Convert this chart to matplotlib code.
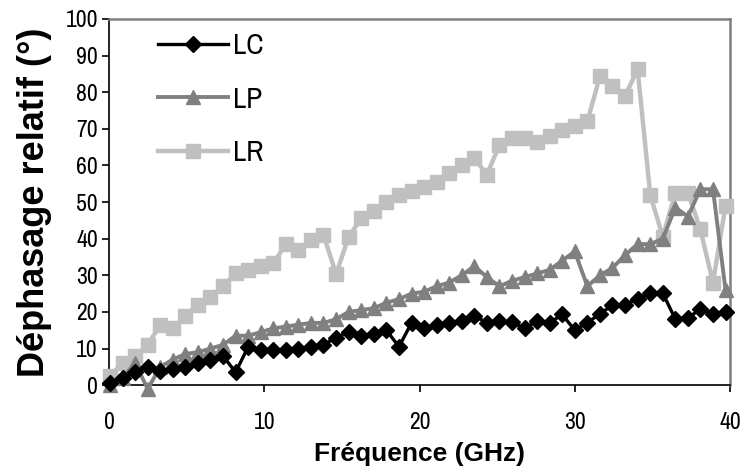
import numpy as np
import matplotlib
matplotlib.use("Agg")
import matplotlib.pyplot as plt

plt.rcParams['font.family'] = ['Archivo Narrow', 'Liberation Sans', 'DejaVu Sans']
label_font = ['Liberation Sans', 'DejaVu Sans']

# frequency grid (GHz), 50 points
freq = [0.06, 0.87, 1.68, 2.49, 3.30, 4.11, 4.91, 5.72, 6.53, 7.34,
        8.15, 8.96, 9.77, 10.58, 11.39, 12.20, 13.00, 13.81, 14.62, 15.43,
        16.24, 17.05, 17.86, 18.67, 19.48, 20.29, 21.09, 21.90, 22.71, 23.52,
        24.33, 25.14, 25.95, 26.76, 27.57, 28.38, 29.18, 29.99, 30.80, 31.61,
        32.42, 33.23, 34.04, 34.85, 35.66, 36.47, 37.28, 38.08, 38.89, 39.70]

lc = [0.5, 2, 3.5, 5, 4, 4.5, 5, 6, 7, 8,
      3.5, 10.5, 9.5, 9.5, 9.5, 10, 10.5, 11, 13, 14.5,
      13.5, 14, 15, 10.5, 17, 15.5, 16.5, 17, 17.5, 19,
      17, 17.5, 17.2, 15.5, 17.5, 17, 19.3, 15, 17, 19.5,
      21.8, 22, 23.5, 25.2, 25.1, 18, 18.3, 20.8, 19.4, 20.1]

lp = [0, 2, 6, -1, 5, 7, 8.5, 9, 10, 11,
      13.5, 13.5, 14.5, 15.5, 16, 16.5, 17, 17, 18, 20,
      20.5, 21, 22.5, 23.5, 25, 25.5, 27, 28, 30, 32.5,
      29.5, 27, 28.5, 29.5, 30.5, 31.5, 34, 36.5, 27, 30,
      32, 35.5, 38.5, 38.5, 40, 48.5, 46, 53.5, 53.5, 26]

lr = [2.5, 6, 8, 11, 16.5, 15.5, 19, 22, 24, 27,
      30.5, 31.5, 32.5, 33.3, 38.5, 37, 39.5, 41, 30.3, 40.5,
      45.5, 47.5, 50, 52, 53, 54, 55.6, 58, 60, 62,
      57.5, 65.5, 67.5, 67.5, 66.3, 68, 69.7, 70.7, 72, 84.3,
      81.6, 79, 86.2, 52, 40.5, 52.5, 52.5, 42.5, 28, 49]

fig = plt.figure(figsize=(7.52, 4.72), dpi=100)
ax = fig.add_axes([0.145, 0.184, 0.826, 0.776])

ax.plot(freq, lr, color='#c0c0c0', lw=3.2, marker='s', ms=9.5, label='LR', clip_on=False, zorder=3)
ax.plot(freq, lp, color='#808080', lw=2.8, marker='^', ms=10.5, label='LP', clip_on=False, zorder=4)
ax.plot(freq, lc, color='black', lw=2.4, marker='D', ms=8.5, label='LC', clip_on=False, zorder=5)

ax.set_xlim(0, 40)
ax.set_ylim(0, 100)
ax.set_xticks([0, 10, 20, 30, 40])
ax.set_yticks(range(0, 101, 10))
ax.tick_params(axis='both', labelsize=17, direction='out', length=5, width=1.2)
ax.tick_params(axis='x', pad=14)
ax.tick_params(axis='y', pad=3)

for s in ['left', 'bottom']:
    ax.spines[s].set_color('black')
    ax.spines[s].set_linewidth(1.2)
for s in ['top', 'right']:
    ax.spines[s].set_color('#808080')
    ax.spines[s].set_linewidth(1.8)

ax.set_xlabel('Fréquence (GHz)', family=label_font, fontsize=19, fontweight='bold', labelpad=7)
ax.set_ylabel('Déphasage relatif (°)', family=label_font, fontsize=26, fontweight='bold', labelpad=10)

h, l = ax.get_legend_handles_labels()
order = [2, 1, 0]
ax.legend([h[i] for i in order], [l[i] for i in order], loc='upper left',
          bbox_to_anchor=(0.036, 1.035), frameon=False, fontsize=21,
          handlelength=2.4, labelspacing=0.9, handletextpad=0.2)

fig.savefig('out.png', dpi=100)
